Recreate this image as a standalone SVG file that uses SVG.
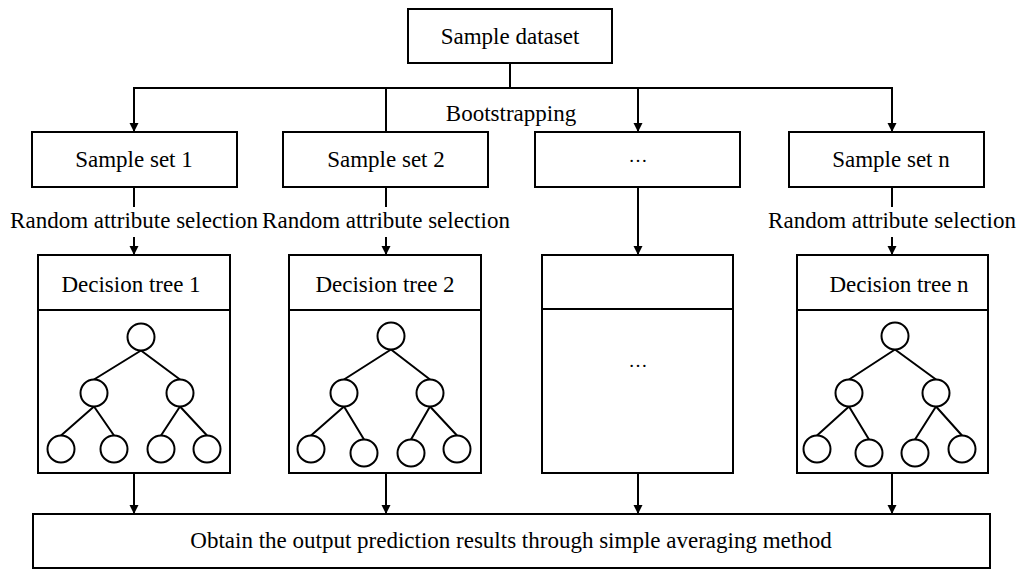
<svg xmlns="http://www.w3.org/2000/svg" width="1020" height="570" viewBox="0 0 1020 570">
<style>
.box{fill:#fff;stroke:#000;stroke-width:2}
.ln{fill:none;stroke:#000;stroke-width:2}
.t{font-family:"Liberation Serif","Times New Roman",serif;font-size:23px;fill:#000;text-anchor:middle}
.nd{fill:#fff;stroke:#000;stroke-width:2}
.e{stroke:#000;stroke-width:2}
</style>
<defs>
<marker id="ah" markerUnits="userSpaceOnUse" markerWidth="10" markerHeight="10" refX="9" refY="4.5" orient="auto">
<path d="M0,0 L9,4.5 L0,9 z" fill="#000"/>
</marker>
</defs>
<rect width="1020" height="570" fill="#fff"/>

<g id="connectors">
<path class="ln" d="M510,63 V88 M133,88 H893"/>
<line class="ln" x1="134" y1="88" x2="134" y2="132" marker-end="url(#ah)"/>
<line class="ln" x1="386" y1="88" x2="386" y2="132"/>
<line class="ln" x1="638" y1="88" x2="638" y2="132" marker-end="url(#ah)"/>
<line class="ln" x1="892" y1="88" x2="892" y2="132" marker-end="url(#ah)"/>
<line class="ln" x1="134" y1="187" x2="134" y2="207"/>
<line class="ln" x1="134" y1="237" x2="134" y2="255" marker-end="url(#ah)"/>
<line class="ln" x1="386" y1="187" x2="386" y2="207"/>
<line class="ln" x1="386" y1="237" x2="386" y2="255" marker-end="url(#ah)"/>
<line class="ln" x1="638" y1="187" x2="638" y2="255" marker-end="url(#ah)"/>
<line class="ln" x1="892" y1="187" x2="892" y2="207"/>
<line class="ln" x1="892" y1="237" x2="892" y2="255" marker-end="url(#ah)"/>
<line class="ln" x1="134" y1="473" x2="134" y2="514" marker-end="url(#ah)"/>
<line class="ln" x1="386" y1="473" x2="386" y2="514" marker-end="url(#ah)"/>
<line class="ln" x1="638" y1="473" x2="638" y2="514" marker-end="url(#ah)"/>
<line class="ln" x1="892" y1="473" x2="892" y2="514" marker-end="url(#ah)"/>
<text class="t" x="511" y="121">Bootstrapping</text>
<text class="t" x="134" y="228">Random attribute selection</text>
<text class="t" x="386" y="228">Random attribute selection</text>
<text class="t" x="892" y="228">Random attribute selection</text>
</g>

<g id="sample-dataset">
<rect class="box" x="408" y="9" width="204" height="54"/>
<text class="t" x="510" y="44">Sample dataset</text>
</g>

<g id="sample-set-1">
<rect class="box" x="32" y="132" width="205" height="55"/>
<text class="t" x="134" y="167">Sample set 1</text>
</g>
<g id="sample-set-2">
<rect class="box" x="283" y="132" width="205" height="55"/>
<text class="t" x="386" y="167">Sample set 2</text>
</g>
<g id="sample-set-dots">
<rect class="box" x="535" y="132" width="205" height="55"/>
<text class="t" x="638" y="162" style="font-size:19px">…</text>
</g>
<g id="sample-set-n">
<rect class="box" x="789" y="132" width="195" height="55"/>
<text class="t" x="891" y="167">Sample set n</text>
</g>

<g id="decision-tree-1">
<rect class="box" x="38" y="255" width="192" height="218"/>
<line class="ln" x1="38" y1="310" x2="230" y2="310"/>
<text class="t" x="131" y="292">Decision tree 1</text>
<path class="e" d="M141,350.5 L94,379.5 M141,350.5 L180,379.5 M94,406.5 L61,435.5 M94,406.5 L114,435.5 M180,406.5 L161,435.5 M180,406.5 L207,435.5"/>
<circle class="nd" cx="141" cy="337" r="13.5"/>
<circle class="nd" cx="94" cy="393" r="13.5"/>
<circle class="nd" cx="180" cy="393" r="13.5"/>
<circle class="nd" cx="61" cy="449" r="13.5"/>
<circle class="nd" cx="114" cy="449" r="13.5"/>
<circle class="nd" cx="161" cy="449" r="13.5"/>
<circle class="nd" cx="207" cy="449" r="13.5"/>
</g>

<g id="decision-tree-2">
<rect class="box" x="289" y="255" width="192" height="218"/>
<line class="ln" x1="289" y1="310" x2="481" y2="310"/>
<text class="t" x="385" y="292">Decision tree 2</text>
<path class="e" d="M391,349.5 L344,379.5 M391,349.5 L430,379.5 M344,406.5 L311,435.5 M344,406.5 L364,439.5 M430,406.5 L411,439.5 M430,406.5 L457,435.5"/>
<circle class="nd" cx="391" cy="336" r="13.5"/>
<circle class="nd" cx="344" cy="393" r="13.5"/>
<circle class="nd" cx="430" cy="393" r="13.5"/>
<circle class="nd" cx="311" cy="449" r="13.5"/>
<circle class="nd" cx="364" cy="453" r="13.5"/>
<circle class="nd" cx="411" cy="453" r="13.5"/>
<circle class="nd" cx="457" cy="449" r="13.5"/>
</g>

<g id="decision-tree-dots">
<rect class="box" x="542" y="255" width="191" height="218"/>
<line class="ln" x1="542" y1="309" x2="733" y2="309"/>
<text class="t" x="638" y="367" style="font-size:19px">…</text>
</g>

<g id="decision-tree-n">
<rect class="box" x="797" y="255" width="191" height="218"/>
<line class="ln" x1="797" y1="310" x2="988" y2="310"/>
<text class="t" x="899" y="292">Decision tree n</text>
<path class="e" d="M895,349.5 L849,379.5 M895,349.5 L936,379.5 M849,406.5 L817,435.5 M849,406.5 L869,439.5 M936,406.5 L915,439.5 M936,406.5 L962,435.5"/>
<circle class="nd" cx="895" cy="336" r="13.5"/>
<circle class="nd" cx="849" cy="393" r="13.5"/>
<circle class="nd" cx="936" cy="393" r="13.5"/>
<circle class="nd" cx="817" cy="449" r="13.5"/>
<circle class="nd" cx="869" cy="453" r="13.5"/>
<circle class="nd" cx="915" cy="453" r="13.5"/>
<circle class="nd" cx="962" cy="449" r="13.5"/>
</g>

<g id="output">
<rect class="box" x="33" y="514" width="957" height="54"/>
<text class="t" x="511" y="548">Obtain the output prediction results through simple averaging method</text>
</g>
</svg>
